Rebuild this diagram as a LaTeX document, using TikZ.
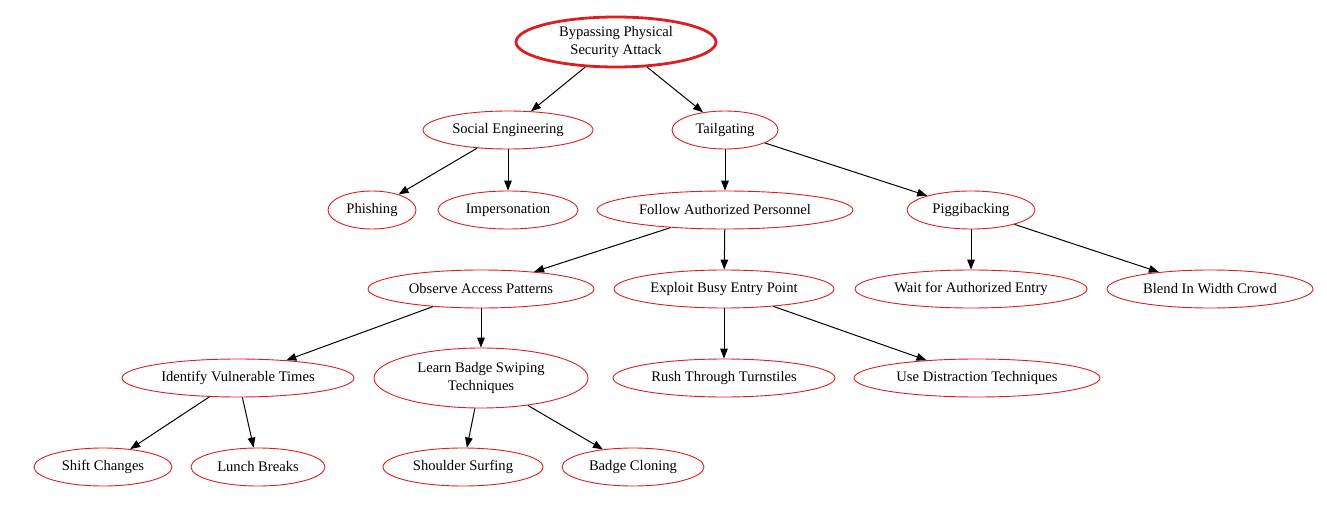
\documentclass[tikz,border=0pt]{standalone}
\usepackage{fontspec}
\setmainfont{Liberation Serif}
\usetikzlibrary{shapes.geometric,arrows.meta}
\definecolor{nodered}{RGB}{220,30,30}
\tikzset{
  goal/.style={ellipse, draw=nodered, line width=0.45pt, inner sep=0pt, minimum height=19pt, minimum width={#1*0.5pt}, align=center},
  topgoal/.style={goal=#1, line width=1.4pt, minimum height=25pt},
  link/.style={-{Triangle[length=5pt,width=3.8pt]}, line width=0.5pt}
}
\begin{document}
\begin{tikzpicture}[x=0.5pt, y=-0.5pt, font=\fontsize{7.3}{8.6}\selectfont, line join=round]
				\useasboundingbox (0,0) rectangle (1327,513);
				% level 0 and 1
				\node[topgoal=200] (root) at (616,42) {Bypassing Physical\\Security Attack};
				\node[goal=170] (se) at (508,130) {Social Engineering};
				\node[goal=106] (tg) at (725,130) {Tailgating};
				% level 2
				\node[goal=88] (ph) at (372,210) {Phishing};
				\node[goal=140] (im) at (508,210) {Impersonation};
				\node[goal=256] (fap) at (725,210) {Follow Authorized Personnel};
				\node[goal=128] (pb) at (971,210) {Piggibacking};
				% level 3
				\node[goal=226] (oap) at (481,289) {Observe Access Patterns};
				\node[goal=220] (ebe) at (724,289) {Exploit Busy Entry Point};
				\node[goal=232] (wae) at (971,289) {Wait for Authorized Entry};
				\node[goal=206] (bic) at (1210,289) {Blend In Width Crowd};
				% level 4
				\node[goal=232] (ivt) at (238,378) {Identify Vulnerable Times};
				\node[goal=214, minimum height=30pt] (lbs) at (481,378) {Learn Badge Swiping\\Techniques};
				\node[goal=222] (rtt) at (724,378) {Rush Through Turnstiles};
				\node[goal=246] (udt) at (977,378) {Use Distraction Techniques};
				% level 5
				\node[goal=138] (sc) at (103,467) {Shift Changes};
				\node[goal=134] (lb) at (258,467) {Lunch Breaks};
				\node[goal=160] (ss) at (463,467) {Shoulder Surfing};
				\node[goal=142] (bc) at (633,467) {Badge Cloning};
				\foreach \a/\b in {root/se, root/tg, se/ph, se/im, tg/fap, tg/pb, fap/oap, fap/ebe, pb/wae, pb/bic,
					oap/ivt, oap/lbs, ebe/rtt, ebe/udt, ivt/sc, ivt/lb, lbs/ss, lbs/bc}{\draw[link] (\a)--(\b);}
			\end{tikzpicture}
\end{document}
